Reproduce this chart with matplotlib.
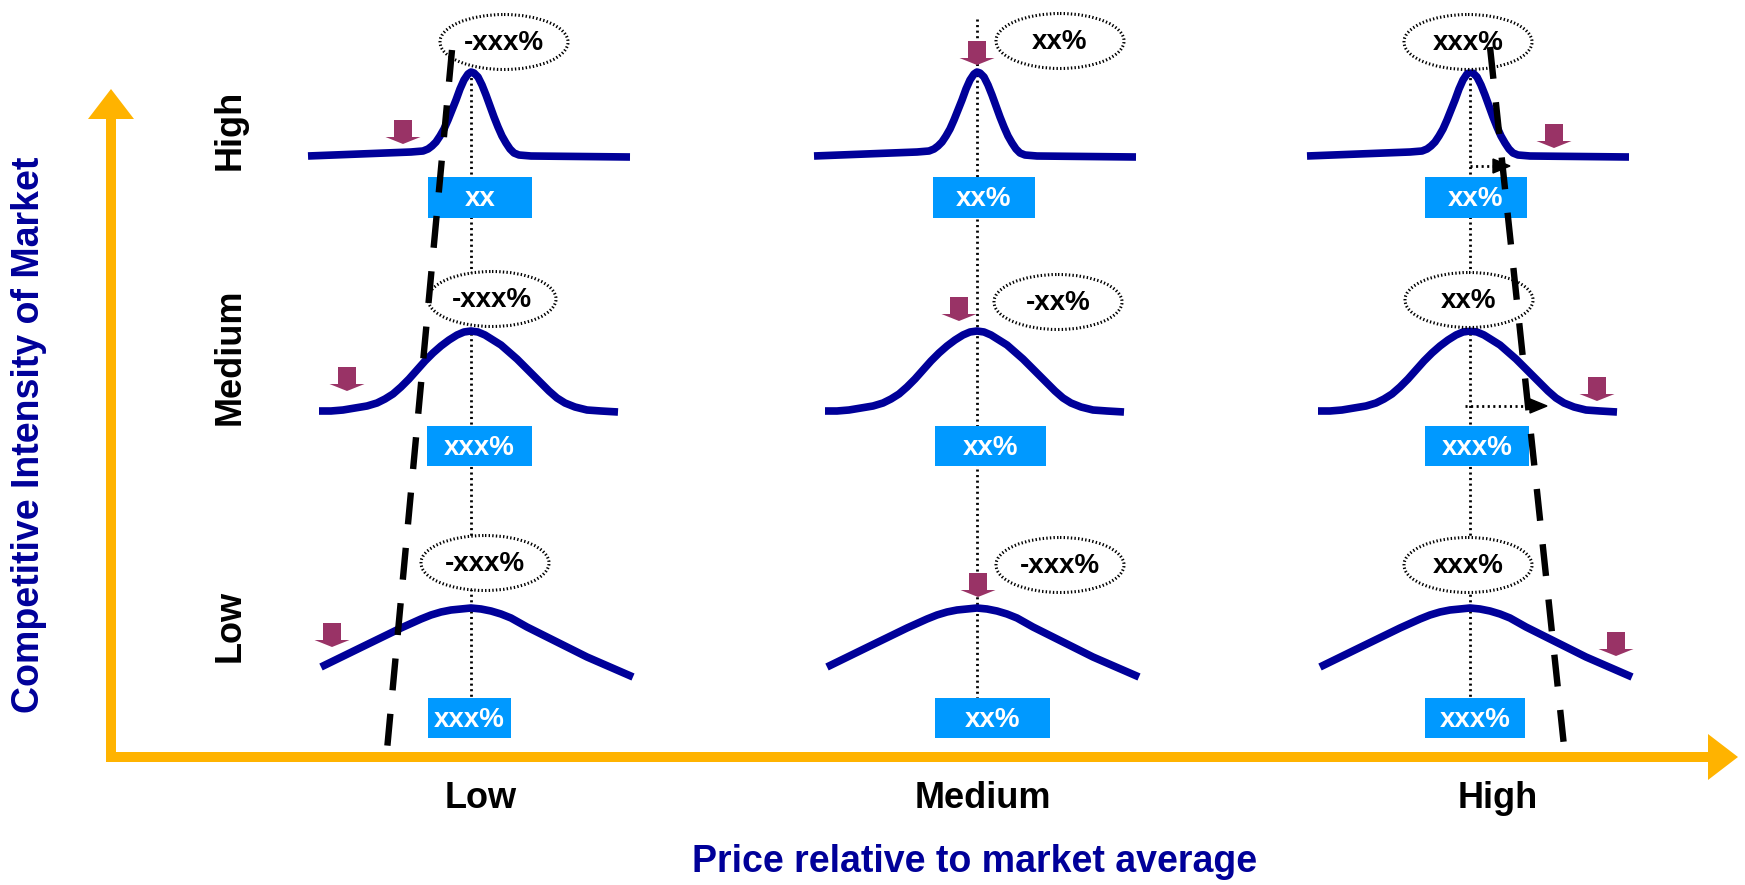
import matplotlib
matplotlib.use('Agg')
import matplotlib.pyplot as plt
from matplotlib.patches import Ellipse, Rectangle, FancyArrow, Polygon

plt.rcParams['font.family'] = ['Liberation Sans', 'DejaVu Sans']
plt.rcParams['lines.scale_dashes'] = False

# ---------------- data ----------------
row_levels = ['High', 'Medium', 'Low']          # competitive intensity (top -> bottom)
col_levels = ['Low', 'Medium', 'High']          # price relative to market (left -> right)
x_title = 'Price relative to market average'
y_title = 'Competitive Intensity of Market'

ellipse_labels = [['-xxx%', 'xx%', 'xxx%'],
                  ['-xxx%', '-xx%', 'xx%'],
                  ['-xxx%', '-xxx%', 'xxx%']]
box_labels = [['xx', 'xx%', 'xx%'],
              ['xxx%', 'xx%', 'xxx%'],
              ['xxx%', 'xx%', 'xxx%']]

# curve shapes: offset from column centre, vertical position (px)
high_dx = [-163, -60, -48, -43, -39, -35, -31, -27, -23, -19, -15, -11, -7, -3, 0,
           3, 7, 11, 15, 19, 23, 27, 31, 35, 39, 43, 48, 60, 159]
high_y = [156, 152, 151, 149, 146, 142, 136, 129, 120, 110, 100, 89, 80, 74, 72,
          73, 77, 85, 95, 106, 117, 127, 136, 143, 149, 153, 155, 156, 157]
med_dx = [-152, -140, -128, -116, -104, -94, -86, -78, -70, -62, -54, -46, -38, -30, -22,
          -14, -7, 0, 7, 14, 22, 30, 38, 46, 54, 62, 70, 78, 86, 94, 104, 116, 130, 147]
med_y = [411, 411, 410, 408, 406, 403, 399, 394, 387, 379, 370, 361, 353, 346, 340,
         335, 332, 331, 332, 335, 340, 345, 352, 359, 367, 375, 383, 391, 398, 403, 407,
         410, 411, 412]
low_dx = [-150, -107, -70, -50, -40, -30, -20, -10, 0, 10, 20, 30, 40, 56, 76, 116, 162]
low_y = [667, 646, 628, 619, 615, 612, 610, 609, 608, 609, 611, 614, 618, 627, 637, 657, 677]
curves = [(high_dx, high_y), (med_dx, med_y), (low_dx, low_y)]

# ---------------- layout ----------------
W, H = 1745, 885
col_x = [471, 977, 1470]
line_top = [72, 19, 72]
line_bottom = 698
ell_xy = [[(504, 42), (1060, 41), (1468, 42)],
          [(492, 299), (1058, 302), (1469, 300)],
          [(485, 563), (1060, 565), (1468, 565)]]
ell_w, ell_h = 128, 55
box_x = [[(428, 532), (933, 1035), (1425, 1527)],
         [(427, 532), (935, 1046), (1425, 1529)],
         [(428, 511), (935, 1050), (1425, 1525)]]
box_y = [(177, 218), (426, 466), (698, 738)]
arrow_pos = [[(403, 120), (977, 41), (1554, 124)],
             [(347, 367), (959, 297), (1597, 377)],
             [(332, 623), (978, 573), (1616, 632)]]

NAVY = '#000099'
ORANGE = '#FFB300'
BLUE = '#0099FF'
PURPLE = '#993366'

fig = plt.figure(figsize=(W / 100, H / 100), dpi=100)
ax = fig.add_axes([0, 0, 1, 1])
ax.set_xlim(0, W)
ax.set_ylim(H, 0)
ax.axis('off')

# axes arrows
ax.add_patch(FancyArrow(111, 762, 0, 89 - 762, width=10, head_width=46, head_length=30,
                        length_includes_head=True, color=ORANGE, lw=0, zorder=2))
ax.add_patch(FancyArrow(106, 757, 1738 - 106, 0, width=10, head_width=46, head_length=30,
                        length_includes_head=True, color=ORANGE, lw=0, zorder=2))

# dotted column guides
for j, cx in enumerate(col_x):
    ax.plot([cx, cx], [line_top[j], line_bottom], color='black', lw=2.0,
            linestyle=(0, (1.5, 2.5)), zorder=1)

for i in range(3):
    dx, ys = curves[i]
    for j, cx in enumerate(col_x):
        ax.plot([cx + d for d in dx], ys, color=NAVY, lw=5.5, solid_joinstyle='round',
                solid_capstyle='butt', zorder=3)
        ex, ey = ell_xy[i][j]
        ax.add_patch(Ellipse((ex, ey), ell_w, ell_h, facecolor='white', edgecolor='black',
                             lw=2.2, linestyle=(0, (1, 1.6)), zorder=4))
        ax.text(ex, ey + 1, ellipse_labels[i][j], ha='center', va='center', fontsize=20,
                fontweight='bold', color='black', zorder=7)
        x0, x1 = box_x[i][j]
        y0, y1 = box_y[i]
        ax.add_patch(Rectangle((x0, y0), x1 - x0, y1 - y0, facecolor=BLUE, edgecolor='none',
                               zorder=4))
        ax.text((x0 + x1) / 2, (y0 + y1) / 2 + 2, box_labels[i][j], ha='center', va='center',
                fontsize=20, fontweight='bold', color='white', zorder=7)
        axp, ayp = arrow_pos[i][j]
        ax.add_patch(FancyArrow(axp, ayp, 0, 24, width=18, head_width=35, head_length=7,
                                length_includes_head=True, color=PURPLE, lw=0, zorder=6))

# dotted shift arrows in the high-price column
for (xs, xe, y) in [(1470, 1510, 166), (1465, 1547, 406)]:
    ax.plot([xs, xe - 14], [y, y], color='black', lw=2.0, linestyle=(0, (1.5, 2.5)), zorder=4)
    ax.add_patch(Polygon([(xe, y), (xe - 17, y - 7), (xe - 17, y + 7)], closed=True,
                         color='black', zorder=5))

# black dashed boundary lines
for (xa, ya, xb, yb) in [(452, 50, 387, 750), (1490, 47, 1564, 746)]:
    ax.plot([xa, xb], [ya, yb], color='black', lw=4.6, dashes=(23, 17),
            solid_capstyle='butt', dash_capstyle='butt', zorder=5)

# row and column labels
row_label_y = [130, 357, 626]
for i, lab in enumerate(row_levels):
    ax.text(230, row_label_y[i], lab, rotation=90, ha='center', va='center', fontsize=26,
            fontweight='bold', color='black')
col_label_x = [481, 983, 1498]
for j, lab in enumerate(col_levels):
    ax.text(col_label_x[j], 799, lab, ha='center', va='center', fontsize=26,
            fontweight='bold', color='black')

ax.text(975, 862, x_title, ha='center', va='center', fontsize=27, fontweight='bold', color=NAVY)
ax.text(29, 435, y_title, rotation=90, ha='center', va='center', fontsize=27,
        fontweight='bold', color=NAVY)

fig.savefig('out.png', dpi=100)
